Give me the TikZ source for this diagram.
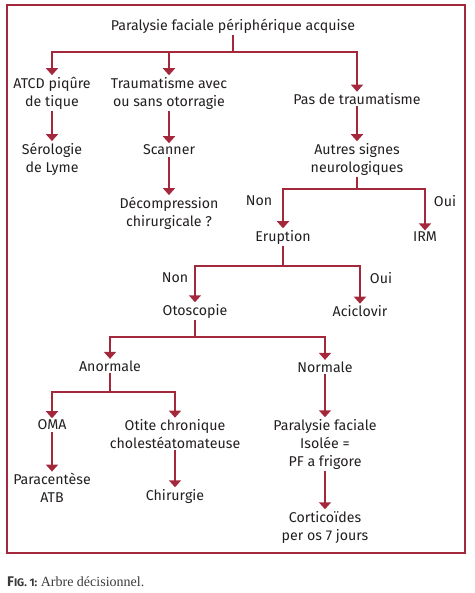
\documentclass[tikz,border=0pt]{standalone}
\usepackage{fontspec}
\setmainfont{Fira Sans}
\newfontfamily\capfont{Liberation Serif}
\usepackage{tikz}
\usetikzlibrary{arrows.meta}
\definecolor{mainc}{HTML}{A4283C}
\definecolor{txtc}{HTML}{231F20}
\definecolor{capc}{HTML}{3A3A3A}
\tikzset{
  ar/.style={-{Triangle[length=7pt,width=12pt]},line width=1.9pt,mainc},
  lb/.style={align=center,inner sep=1.5pt,text=txtc,font=\fontsize{14.2}{18}\selectfont},
  yn/.style={inner sep=0pt,text=txtc,font=\fontsize{14.2}{18}\selectfont}
}
\begin{document}
\begin{tikzpicture}[x=1pt,y=-1pt]
\useasboundingbox (0,0) rectangle (474,593);
\draw[mainc,line width=1.9pt] (7,5) rectangle (465,553);
% noeuds
\node[lb] (title) at (233,26) {Paralysie faciale périphérique acquise};
\node[lb] (atcd) at (52,93) {ATCD piqûre\\de tique};
\node[lb] (trauma) at (169,93) {Traumatisme avec\\ou sans otorragie};
\node[lb] (pastr) at (357,99) {Pas de traumatisme};
\node[lb] (lyme) at (52,159) {Sérologie\\de Lyme};
\node[lb] (scanner) at (169,150) {Scanner};
\node[lb] (autres) at (357,159) {Autres signes\\neurologiques};
\node[lb] (decomp) at (169,213) {Décompression\\chirurgicale ?};
\node[lb] (erupt) at (283,237) {Eruption};
\node[lb] (irm) at (425,237) {IRM};
\node[lb] (otosc) at (195,311) {Otoscopie};
\node[lb] (aciclo) at (360,311) {Aciclovir};
\node[lb] (anorm) at (110,366) {Anormale};
\node[lb] (norm) at (325,367) {Normale};
\node[lb] (oma) at (52,425) {OMA};
\node[lb] (otite) at (175,434) {Otite chronique\\cholestéatomateuse};
\node[lb] (parac) at (52,488) {Paracentèse\\ATB};
\node[lb] (chir) at (175,496) {Chirurgie};
\node[lb] (pfiso) at (325,444) {Paralysie faciale\\Isolée =\\PF a frigore};
\node[lb] (cortico) at (325,527) {Corticoïdes\\per os 7 jours};
\node[yn] (non1) at (259,201) {Non};
\node[yn] (oui1) at (445,201) {Oui};
\node[yn] (non2) at (175,278) {Non};
\node[yn] (oui2) at (381,278) {Oui};
% barres horizontales
\coordinate (b1) at (0,52);
\coordinate (b2) at (0,189);
\coordinate (b3) at (0,266);
\coordinate (b4) at (0,337);
\coordinate (b5) at (0,392);
% fleches
\foreach \to in {atcd,trauma,pastr}
  \draw[ar] (title.south) -- (title.south |- b1) -| (\to.north);
\draw[ar] (atcd.south) -- (lyme.north);
\draw[ar] (trauma.south) -- (scanner.north);
\draw[ar] (pastr.south) -- (autres.north);
\draw[ar] (scanner.south) -- (decomp.north);
\foreach \to in {erupt,irm}
  \draw[ar] (autres.south) -- (autres.south |- b2) -| (\to.north);
\foreach \to in {otosc,aciclo}
  \draw[ar] (erupt.south) -- (erupt.south |- b3) -| (\to.north);
\foreach \to in {anorm,norm}
  \draw[ar] (otosc.south) -- (otosc.south |- b4) -| (\to.north);
\foreach \to in {oma,otite}
  \draw[ar] (anorm.south) -- (anorm.south |- b5) -| (\to.north);
\draw[ar] (oma.south) -- (parac.north);
\draw[ar] (otite.south) -- (chir.north);
\draw[ar] (norm.south) -- (pfiso.north);
\draw[ar] (pfiso.south) -- (cortico.north);
% legende
\node[anchor=west,inner sep=0pt,text=capc] (cap) at (7,582)
  {{\bfseries\fontsize{14}{16}\selectfont F\fontsize{11}{16}\selectfont IG. 1:}
   {\capfont\fontsize{14}{16}\selectfont Arbre décisionnel.}};
\end{tikzpicture}
\end{document}
